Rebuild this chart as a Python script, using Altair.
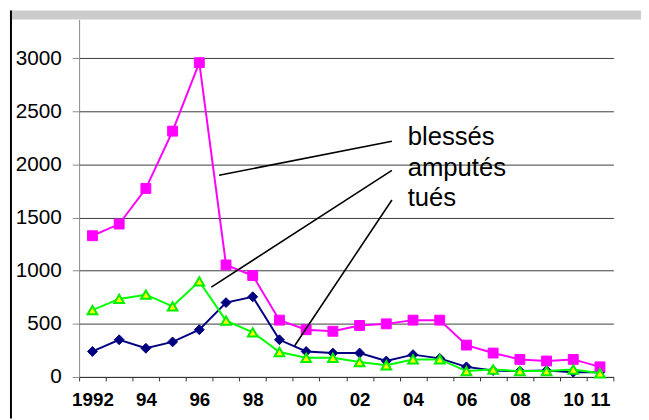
import altair as alt
import pandas as pd

# ---- data ----
years = list(range(1992, 2012))
blesses = [1330, 1440, 1775, 2315, 2960, 1055, 955, 535, 445, 430, 485, 500, 535, 535, 300, 225, 165, 150, 165, 95]
amputes = [630, 735, 775, 665, 900, 530, 420, 235, 180, 180, 140, 110, 165, 165, 55, 70, 55, 55, 70, 35]
tues = [240, 350, 270, 330, 445, 700, 755, 350, 240, 225, 225, 150, 210, 175, 95, 60, 55, 60, 45, 45]

series_names = ["blessés", "amputés", "tués"]
label_year = [2003.8, 2003.8, 2003.8]
label_value = [2262, 1965, 1686]
leader_x1 = [1996.74, 1996.45, 1999.57]
leader_y1 = [1900, 846, 294]
leader_x2 = [2003.21, 2003.21, 2003.21]
leader_y2 = [2219, 1946, 1667]

y_ticks = [0, 500, 1000, 1500, 2000, 2500, 3000]
x_label_years = [1992, 1994, 1996, 1998, 2000, 2002, 2004, 2006, 2008, 2010, 2011]
x_boundaries = [1991.5 + i for i in range(21)]

FONT = "Liberation Sans"
W, H = 541, 362

xscale = alt.Scale(domain=[1991.5, 2011.5], nice=False, zero=False)
yscale = alt.Scale(domain=[0, 3367], nice=False)

xaxis = alt.Axis(
    values=x_boundaries + x_label_years,
    labelExpr="datum.value % 1 != 0 ? '' : (datum.value == 1992 ? '1992' : substring(toString(datum.value), 2, 4))",
    title=None, grid=False, labelOverlap=False, labelFlush=False,
    labelFont=FONT, labelFontSize=19, labelFontWeight="bold", labelColor="black",
    labelPadding=10, tickSize=4, tickColor="#333333", domainColor="#333333",
    tickOpacity={"condition": {"test": "datum.value % 1 == 0", "value": 0}, "value": 1},
)
yaxis = alt.Axis(
    values=y_ticks, format="d", title=None, grid=True, gridColor="#3a3a3a", gridWidth=1,
    labelFont=FONT, labelFontSize=21, labelColor="black", labelPadding=11,
    tickSize=7, tickColor="#888888", domainColor="#888888",
)


def X(field):
    return alt.X(field, type="quantitative", scale=xscale, axis=xaxis)


def Y(field):
    return alt.Y(field, type="quantitative", scale=yscale, axis=yaxis)


def series_layer(values, color, shape, fill, size, stroke, sw):
    df = pd.DataFrame({"year": years, "value": values})
    base = alt.Chart(df)
    line = base.mark_line(color=color, strokeWidth=2).encode(x=X("year"), y=Y("value"))
    pts = base.mark_point(shape=shape, filled=True, fill=fill, stroke=stroke, strokeWidth=sw,
                          size=size, opacity=1).encode(x=X("year"), y=Y("value"))
    return line + pts


navy = series_layer(tues, "#000080", "diamond", "#000080", 100, "#000080", 1)
mag = series_layer(blesses, "#FF00FF", "square", "#FF00FF", 100, "#FF00FF", 1)
grn = series_layer(amputes, "#00FF00", "triangle-up", "#FFFF00", 95, "#00EE00", 2)

leaders_df = pd.DataFrame({"x1": leader_x1, "y1": leader_y1, "x2": leader_x2, "y2": leader_y2})
leaders = alt.Chart(leaders_df).mark_rule(color="black", strokeWidth=1.6).encode(
    x=X("x1"), y=Y("y1"), x2="x2", y2="y2"
)

labels_df = pd.DataFrame({"name": series_names, "x": label_year, "y": label_value})
labels = alt.Chart(labels_df).mark_text(
    align="left", baseline="middle", font=FONT, fontSize=26, color="black"
).encode(x=X("x"), y=Y("y"), text="name:N")

one = pd.DataFrame({"a": [0]})
band = alt.Chart(one).mark_rect(color="#CCCCCC").encode(
    x=alt.value(-70), x2=alt.value(569), y=alt.value(-9), y2=alt.value(0)
)
border = alt.Chart(one).mark_rule(color="black", strokeWidth=2).encode(
    x=alt.value(-69), y=alt.value(-9), y2=alt.value(404)
)

chart = alt.layer(band, border, navy, mag, grn, leaders, labels).properties(
    width=W, height=H,
    autosize=alt.AutoSizeParams(type="none"),
    padding={"left": 72, "top": 9, "right": 28, "bottom": 41},
    background="white",
).configure_view(stroke=None)

chart.save("out.html", embed_options={"renderer": "svg", "actions": False})
